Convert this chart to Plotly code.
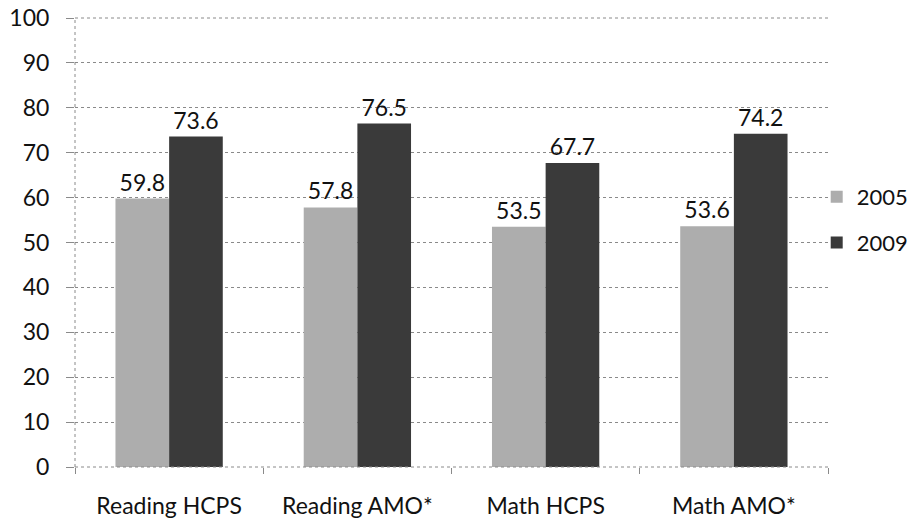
import plotly.graph_objects as go

categorias = ['Reading HCPS', 'Reading AMO*', 'Math HCPS', 'Math AMO*']
valores_2005 = [59.8, 57.8, 53.5, 53.6]
valores_2009 = [73.6, 76.5, 67.7, 74.2]

fonte = dict(family='Lato, Open Sans, sans-serif', size=23, color='#111111')
cinza = '#8a8a8a'

f = go.Figure(data=[
    go.Bar(name='2005', x=categorias, y=valores_2005, legendgroup='a',
           marker=dict(color='#adadad', line=dict(width=0)),
           text=[f'{v:.1f}' for v in valores_2005], textposition='outside',
           textfont=fonte, cliponaxis=False),
    go.Bar(name='2009', x=categorias, y=valores_2009, legendgroup='b',
           marker=dict(color='#3a3a3a', line=dict(width=0)),
           text=[f'{v:.1f}' for v in valores_2009], textposition='outside',
           textfont=fonte, cliponaxis=False),
])

f.update_layout(
    width=920, height=525,
    margin=dict(l=75, r=92, t=18, b=58, autoexpand=False),
    paper_bgcolor='white', plot_bgcolor='white',
    barmode='group', bargap=0.43, bargroupgap=0,
    font=fonte,
    showlegend=True,
    legend=dict(x=0.985, y=0.55, xanchor='left', yanchor='middle',
                font=dict(family='Lato, Open Sans, sans-serif', size=22, color='#111111'),
                itemsizing='constant', tracegroupgap=14, itemwidth=30,
                bgcolor='rgba(0,0,0,0)'),
)

f.update_yaxes(range=[0, 100], dtick=10, showgrid=True, gridcolor=cinza,
               griddash='dot', gridwidth=1, zeroline=False, automargin=False,
               showline=False,
               ticks='outside', ticklen=8, tickcolor=cinza,
               ticklabelstandoff=12, ticklabeloverflow='allow', tickfont=fonte)
f.update_xaxes(showgrid=False, showline=False, automargin=False,
               ticks='outside', tickson='boundaries', ticklen=6,
               tickcolor=cinza, ticklabelstandoff=23, tickfont=fonte)

# eixos pontilhados
pontilhado = dict(color=cinza, width=1, dash='dot')
f.add_shape(type='line', xref='paper', yref='paper', x0=0, x1=0, y0=0, y1=1, line=pontilhado)
f.add_shape(type='line', xref='paper', yref='paper', x0=0, x1=1, y0=0, y1=0, line=pontilhado)
f.add_shape(type='line', xref='paper', yref='paper', x0=0, x1=1, y0=1, y1=1, line=pontilhado)

f.write_html('out.html', config={'displayModeBar': False},
             post_script="document.body.style.margin='0';")
